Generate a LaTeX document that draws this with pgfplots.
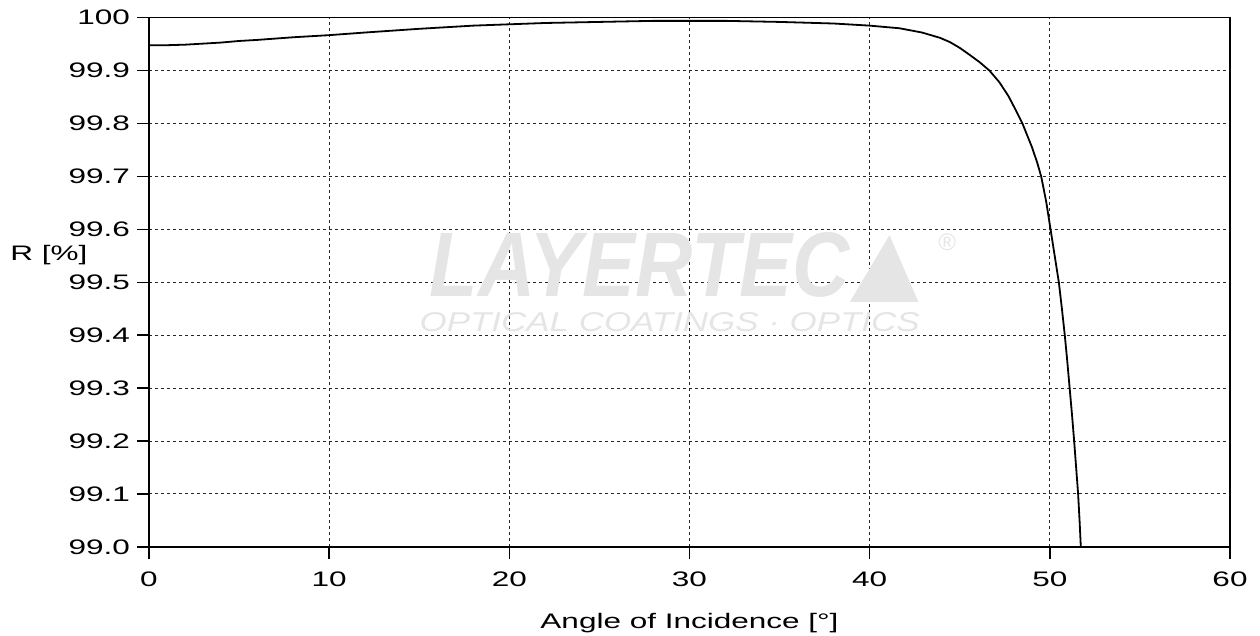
\documentclass[border=0pt]{standalone}
\usepackage{pgfplots}
\pgfplotsset{compat=1.18}
\usepackage{fontspec}
\setmainfont[FakeStretch=1.5]{Liberation Sans}
\newfontfamily\logofont{Liberation Sans}
\usetikzlibrary{calc}
\pgfplotstableread{
x y
0 99.948
1 99.948
2 99.949
3 99.951
4 99.953
5 99.956
6 99.958
8 99.963
10 99.967
12 99.972
15 99.979
18 99.985
20 99.9875
22 99.990
25 99.992
28 99.994
30 99.994
32 99.994
35 99.992
38 99.989
40 99.985
41.66 99.980
42.9 99.972
43.9 99.962
44.45 99.954
45.0 99.943
45.54 99.930
46.1 99.916
46.65 99.900
47.2 99.878
47.7 99.852
48.1 99.826
48.48 99.800
49.0 99.756
49.3 99.726
49.52 99.700
49.8 99.652
50.04 99.600
50.27 99.550
50.5 99.500
50.67 99.450
50.83 99.400
50.97 99.350
51.1 99.300
51.23 99.250
51.35 99.200
51.46 99.150
51.57 99.100
51.65 99.050
51.72 99.000
}\curve
\begin{document}
\begin{tikzpicture}
\begin{axis}[
  name=ax,
  set layers,
  scale only axis,
  width=540.5pt, height=264.6pt,
  xmin=0, xmax=60, ymin=99.0, ymax=100,
  xtick={0,10,...,60},
  ytick={99.0,99.1,99.2,99.3,99.4,99.5,99.6,99.7,99.8,99.9,100},
  yticklabels={99.0,99.1,99.2,99.3,99.4,99.5,99.6,99.7,99.8,99.9,100},
  xtick pos=bottom, ytick pos=left,
  tick align=outside, major tick length=6pt,
  tick style={black, line width=0.75pt},
  axis line style={line width=0.75pt},
  grid=major,
  major grid style={black!85, line width=0.5pt, dash pattern=on 1.5pt off 1.5pt},
  /pgf/number format/assume math mode=true,
  tick label style={font=\fontsize{10.5}{12}\selectfont},
  xticklabel style={yshift=-3pt},
  label style={font=\fontsize{10.5}{12}\selectfont},
  xlabel={Angle of Incidence [°]},
  xlabel style={yshift=-6.5pt},
  clip mode=individual,
]
\node[on layer=axis background, text=black!10, inner sep=0pt] at (axis cs:27.23,99.533)
  {\resizebox{210pt}{32pt}{\logofont\bfseries\itshape LAYERTEC}};
\node[on layer=axis background, text=black!10, inner sep=0pt] at (axis cs:28.9,99.424)
  {\resizebox{250pt}{9.5pt}{\logofont\itshape OPTICAL COATINGS · OPTICS}};
\node[on layer=axis background, text=black!10, inner sep=0pt, font=\logofont\fontsize{12}{12}\selectfont] at (axis cs:44.3,99.575) {®};
\fill[on layer=axis background, black!10] (axis cs:38.9,99.463) -- (axis cs:41.1,99.589) -- (axis cs:42.7,99.463) -- cycle;
\addplot[black, line width=0.9pt] table {\curve};
\end{axis}
\node[anchor=west, inner sep=0pt, font=\fontsize{10.5}{12}\selectfont] at ($(ax.south west)+(-69.5pt,0.552*264.6pt)$) {R [\%]};
\pgfresetboundingbox
\useasboundingbox ($(ax.south west)+(-74.5pt,-44.55pt)$) rectangle ($(ax.north east)+(15pt,8.85pt)$);
\end{tikzpicture}
\end{document}
